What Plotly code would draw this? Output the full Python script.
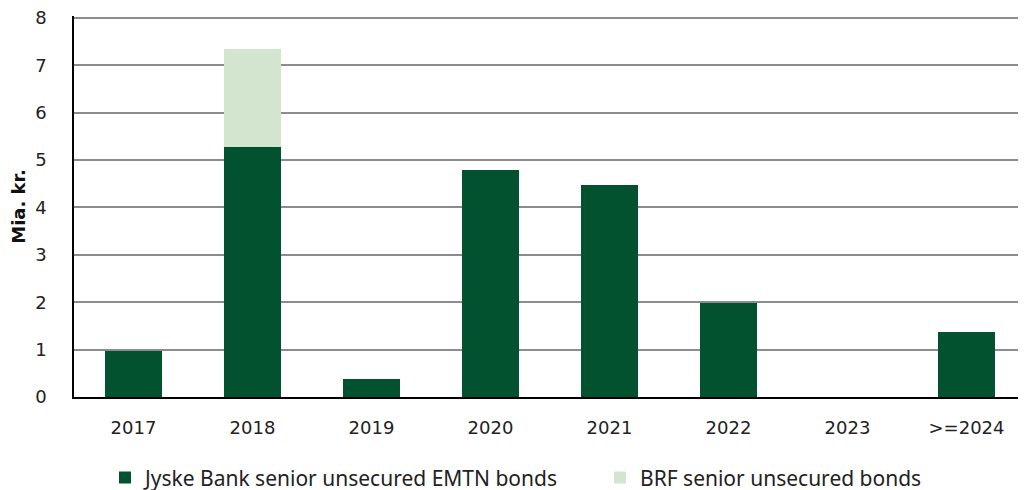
import plotly.graph_objects as go

categories = ["2017", "2018", "2019", "2020", "2021", "2022", "2023", ">=2024"]
jyske = [0.97, 5.27, 0.38, 4.79, 4.47, 1.98, 0.0, 1.37]
brf = [0.0, 2.07, 0.0, 0.0, 0.0, 0.0, 0.0, 0.0]

legend_font = dict(family="Noto Sans, sans-serif", size=21, color="#222222")

fig = go.Figure()
fig.add_trace(go.Bar(x=categories, y=jyske, name="Jyske Bank senior unsecured EMTN bonds",
                     marker=dict(color="#02522F", line=dict(width=0)), legend="legend"))
fig.add_trace(go.Bar(x=categories, y=brf, name="BRF senior unsecured bonds",
                     marker=dict(color="#D3E5CF", line=dict(width=0)), legend="legend2"))

# page body has an 8px margin, compensate so the plot area lands at x 74..1026, y 18..397 on screen
fig.update_layout(
    barmode="stack",
    bargap=0.52,
    width=1026, height=490,
    margin=dict(l=66, r=8, t=8, b=101, autoexpand=False),
    plot_bgcolor="white", paper_bgcolor="white",
    font=dict(family="DejaVu Sans", size=18, color="#222222"),
    showlegend=True,
    legend=dict(orientation="h", x=(105 - 74) / 952, xanchor="left", y=-0.212, yanchor="middle",
                font=legend_font, bgcolor="rgba(0,0,0,0)"),
    legend2=dict(orientation="h", x=(600 - 74) / 952, xanchor="left", y=-0.212, yanchor="middle",
                 font=legend_font, bgcolor="rgba(0,0,0,0)"),
    xaxis=dict(showline=True, linecolor="black", linewidth=1.5, ticks="",
               tickfont=dict(size=18), showgrid=False, ticklabelstandoff=14),
    yaxis=dict(range=[0, 8.04], tickvals=[0, 1, 2, 3, 4, 5, 6, 7, 8], showline=True,
               linecolor="black", linewidth=1.5, ticklabeloverflow="allow",
               gridcolor="#8c8c8c", gridwidth=1.5, ticks="", zeroline=False,
               tickfont=dict(size=18), ticklabelstandoff=22,
               title=dict(text="<b>Mia. kr.</b>", font=dict(size=18, color="#111111"), standoff=6)),
)

fig.write_html("out.html")
